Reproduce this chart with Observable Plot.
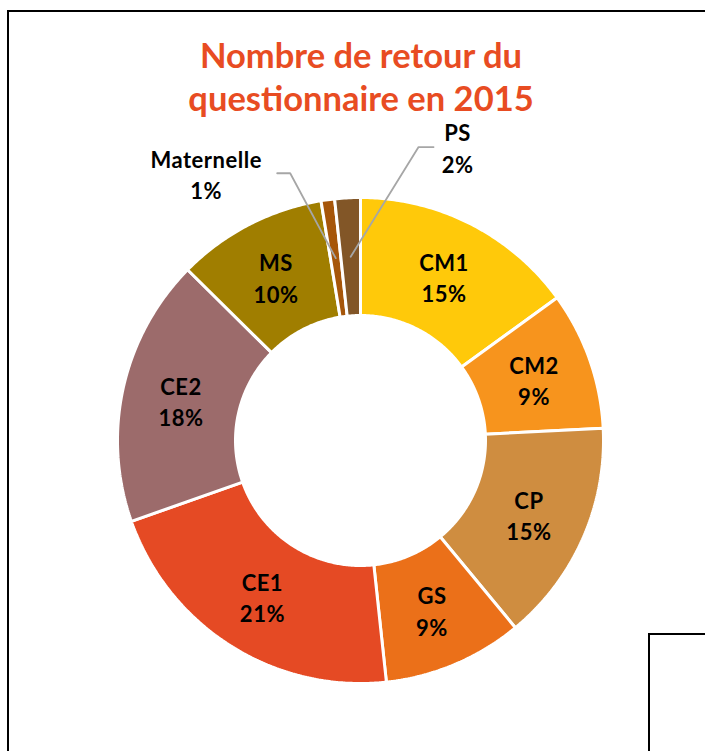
<!DOCTYPE html>
<html>
<head>
<meta charset="utf-8">
<script src="https://cdn.jsdelivr.net/npm/d3@7"></script>
<script src="https://cdn.jsdelivr.net/npm/@observablehq/plot@0.6"></script>
<style>
  html, body { margin: 0; padding: 0; background: #fff; overflow: hidden; }
  #wrap { position: relative; width: 705px; height: 751px; overflow: hidden; font-family: Lato, "Open Sans", sans-serif; }
  .box { position: absolute; border: 2px solid #000; box-sizing: border-box; }
  #title { position: absolute; left: 0; width: 722px; top: 33px; text-align: center; color: #E84C22;
           font-weight: bold; font-size: 34.5px; line-height: 43px; margin: 0; }
  #chart { position: absolute; left: 0; top: 0; }
  #chart text { letter-spacing: 0.5px; }
</style>
</head>
<body>
<div id="wrap">
  <div class="box" style="left:7px; top:10px; width:900px; height:900px;"></div>
  <div class="box" style="left:648px; top:633px; width:300px; height:300px;"></div>
  <div id="chart"></div>
  <h1 id="title">Nombre de retour du<br>questionnaire en 2015</h1>
</div>
<script>
// ---- data (clockwise from 12 o'clock) ----
const categories = ["CM1", "CM2", "CP", "GS", "CE1", "CE2", "MS", "Maternelle", "PS"];
const values     = [15.0, 9.2, 14.8, 9.3, 21.3, 17.8, 10.0, 0.9, 1.7];
const colors     = ["#FFC90A", "#F7941D", "#CF8D40", "#EB7019", "#E54A24", "#9C6B6B", "#A07E00", "#A6560A", "#825627"];

// ---- layout ----
const W = 705, H = 751, CX = 360, CY = 440, R = 243;   // pixels
const innerRatio = 125 / 243;
const midRatio = (1 + innerRatio) / 2;
const outside = { // labels placed outside the ring (angle in degrees, radius in units of R)
  "Maternelle": { angle: -30, r: 1.27, start: 71, elbow: 84 },
  "PS":         { angle: 18.3, r: 1.272, start: -24, elbow: -39 }
};

const total = d3.sum(values);
const pie = d3.pie().sort(null).value(d => d.value)(categories.map((name, i) => ({ name, value: values[i] })));

// ring sector polygons in data coordinates (x right, y up, radius 1 = outer edge)
const polyPts = [];
for (const p of pie) {
  const n = Math.max(4, Math.ceil((p.endAngle - p.startAngle) / 0.01));
  const ring = [];
  for (let k = 0; k <= n; k++) {
    const a = p.startAngle + (p.endAngle - p.startAngle) * k / n;
    ring.push([Math.sin(a), Math.cos(a)]);
  }
  for (let k = n; k >= 0; k--) {
    const a = p.startAngle + (p.endAngle - p.startAngle) * k / n;
    ring.push([innerRatio * Math.sin(a), innerRatio * Math.cos(a)]);
  }
  ring.push(ring[0]);
  for (const [x, y] of ring) polyPts.push({ name: p.data.name, x, y });
}

// labels
const labels = pie.map(p => {
  const pct = Math.round(p.data.value / total * 100) + "%";
  const mid = (p.startAngle + p.endAngle) / 2;
  const cx = midRatio * Math.sin(mid), cy = midRatio * Math.cos(mid);
  const o = outside[p.data.name];
  if (o) {
    const a = o.angle * Math.PI / 180;
    return { name: p.data.name, text: p.data.name + "\n" + pct, x: o.r * Math.sin(a), y: o.r * Math.cos(a), cx, cy, o };
  }
  return { name: p.data.name, text: p.data.name + "\n" + pct, x: cx, y: cy };
});

const leaders = [];
for (const l of labels) {
  if (!l.o) continue;
  leaders.push({ name: l.name, x: l.x + l.o.start / R, y: l.y });
  leaders.push({ name: l.name, x: l.x + l.o.elbow / R, y: l.y });
  leaders.push({ name: l.name, x: l.cx, y: l.cy });
}

const chart = Plot.plot({
  width: W, height: H, margin: 0,
  x: { domain: [-CX / R, (W - CX) / R], axis: null },
  y: { domain: [-(H - CY) / R, CY / R], axis: null },
  color: { domain: categories, range: colors },
  style: { fontFamily: "Lato, 'Open Sans', sans-serif", background: "transparent" },
  marks: [
    Plot.line(polyPts, { x: "x", y: "y", z: "name", fill: "name", stroke: "white", strokeWidth: 3, strokeLinejoin: "miter", curve: "linear" }),
    Plot.line(leaders, { x: "x", y: "y", z: "name", stroke: "#A6A6A6", strokeWidth: 1.8 }),
    Plot.text(labels, { x: "x", y: "y", text: "text", fontSize: 22, fontWeight: "bold", fill: "#000", lineHeight: 1.42, textAnchor: "middle" })
  ]
});
document.getElementById("chart").appendChild(chart);
</script>
</body>
</html>
